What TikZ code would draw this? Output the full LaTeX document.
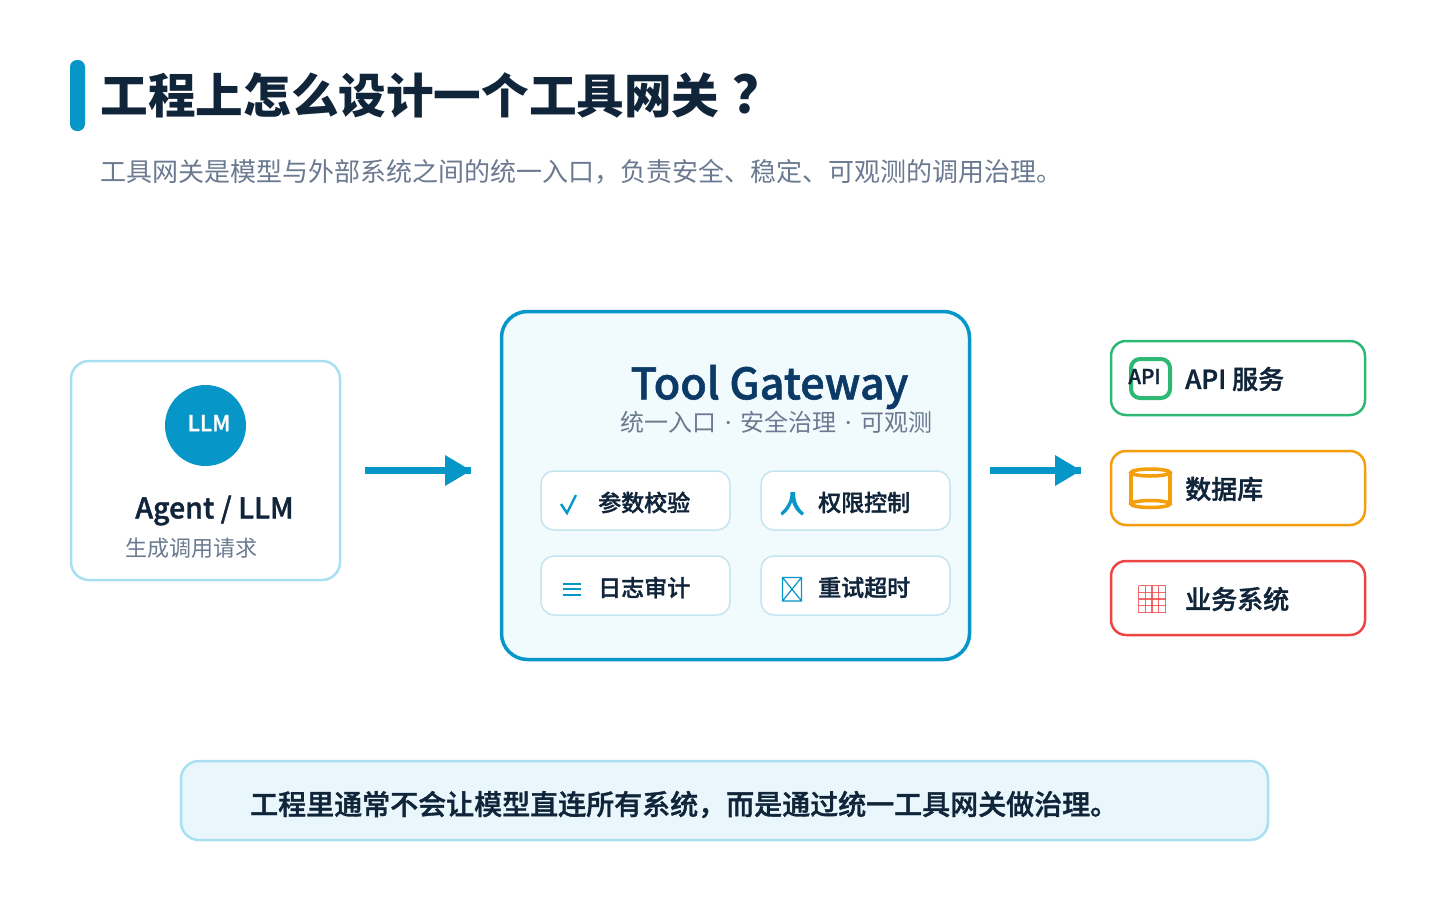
\documentclass[tikz,border=0pt]{standalone}
\usepackage{fontspec}
\setmainfont{Noto Sans CJK SC}
\newfontfamily\semif[FakeBold=1.3]{Noto Sans CJK SC Medium}
\newfontfamily\dotf{Noto Sans}
\usetikzlibrary{arrows.meta}
\definecolor{ink}{HTML}{10243A}
\definecolor{accent}{HTML}{0696C7}
\definecolor{graytxt}{HTML}{6B7A90}
\definecolor{navy}{HTML}{0B3A66}
\definecolor{lightblue}{HTML}{A8E0F2}
\definecolor{palefill}{HTML}{F1FAFD}
\definecolor{noteFill}{HTML}{E9F7FC}
\definecolor{chipline}{HTML}{C4E5F0}
\definecolor{green}{HTML}{2DB873}
\definecolor{orange}{HTML}{F59E0B}
\definecolor{red}{HTML}{EF4444}
\newcommand{\fs}[1]{\fontsize{#1}{#1}\selectfont}
\newcommand{\middot}{\hspace{8.8pt}{\dotf ·}\hspace{8.8pt}}
\tikzset{
  x=1pt,y=-1pt,
  txt/.style={inner sep=0pt,anchor=west,text=#1},
  flow/.style={draw=accent,line width=6.5pt},
  head/.style={fill=accent,draw=none},
  chip/.style={draw=chipline,line width=1.5pt,fill=white,rounded corners=13pt},
  svc/.style={line width=2.5pt,fill=white,rounded corners=15pt},
  icon/.style={draw=accent,line width=2.4pt},
}
\begin{document}
\begin{tikzpicture}
\useasboundingbox (0,0) rectangle (1448,900);
\fill[white] (0,0) rectangle (1448,900);
% header
\fill[accent,rounded corners=7pt] (70,60) rectangle (85,131);
\node[txt=ink] (title) at (100.5,95) {\fs{47.6}\bfseries 工程上怎么设计一个工具网关\kern12.5pt\smash{\fs{52}？}};
\node[txt=graytxt] (sub) at (100,172) {\fs{26}工具网关是模型与外部系统之间的统一入口，负责安全、稳定、可观测的调用治理。};
% agent
\draw[draw=lightblue,line width=2.5pt,fill=white,rounded corners=18pt] (71,361) rectangle (340,580);
\node[circle,fill=accent,minimum size=81pt,inner sep=0pt] (llm) at (205.5,425.5) {};
\node[txt=white,anchor=center] (llmt) at (209,423) {\fs{22}\semif LLM};
\node[txt=ink,anchor=center] (agent) at (214.5,510.5) {\fs{28.5}\semif Agent / LLM};
\node[txt=graytxt] (gen) at (125,548.5) {\fs{22}生成调用请求};
% gateway
\draw[draw=accent,line width=3.5pt,fill=palefill,rounded corners=26pt] (501.5,311.5) rectangle (969.5,659.5);
\node[txt=navy,anchor=center] (gw) at (769.5,387) {\fs{43.2}\semif Tool Gateway};
\node[txt=graytxt] (gwsub) at (620,422.5) {\fs{24}统一入口\middot 安全治理\middot 可观测};
% chips
\node[chip,minimum width=189pt,minimum height=59pt] (c1) at (635.5,500.5) {};
\node[chip,minimum width=189pt,minimum height=59pt] (c2) at (855.5,500.5) {};
\node[chip,minimum width=189pt,minimum height=59pt] (c3) at (635.5,585.5) {};
\node[chip,minimum width=189pt,minimum height=59pt] (c4) at (855.5,585.5) {};
\node[txt=ink] (c1t) at (598,502.5) {\fs{23}\semif 参数校验};
\node[txt=ink] (c2t) at (818,502.5) {\fs{23}\semif 权限控制};
\node[txt=ink] (c3t) at (598,587.5) {\fs{23}\semif 日志审计};
\node[txt=ink] (c4t) at (818,587.5) {\fs{23}\semif 重试超时};
% chip icons
\draw[icon] (561,504) -- (567,513) -- (576,495);
\fill[accent] (790.5,492) -- (795,492) .. controls (795,503) and (799,509) .. (804,513) -- (802,515.5) .. controls (797,512) and (794,508) .. (792,502) .. controls (790,508) and (787,512) .. (782,515.5) -- (780.5,513) .. controls (786,508) and (790.5,502) .. (790.5,492) -- cycle;
\draw[accent,line width=2pt] (563,583.5) -- (581,583.5) (563,589) -- (581,589) (563,594.5) -- (581,594.5);
\draw[accent,line width=1.2pt] (782.5,577.5) rectangle (801.5,601) (782.5,577.5) -- (801.5,601) (801.5,577.5) -- (782.5,601);
% arrows
\coordinate (a1s) at (365,470.5);
\coordinate (a1e) at (471,470.5);
\coordinate (a2s) at (990,470.5);
\coordinate (a2e) at (1081,470.5);
\draw[flow] (a1s) -- (a1e);
\fill[head] (445,455) -- (471,470.5) -- (445,486) -- cycle;
\draw[flow] (a2s) -- (a2e);
\fill[head] (1055,455) -- (1081,470.5) -- (1055,486) -- cycle;
% services
\draw[svc,draw=green] (1111,341) rectangle (1365,415);
\draw[svc,draw=orange] (1111,451) rectangle (1365,525);
\draw[svc,draw=red] (1111,561) rectangle (1365,635);
\draw[draw=green,line width=4pt,rounded corners=9pt] (1131,359) rectangle (1170,398);
\node[txt=ink,anchor=center] (apii) at (1144.5,376.5) {\fs{20.5}\semif API};
\node[txt=ink] (s1) at (1185,379) {\fs{26}\semif API 服务};
\draw[orange,line width=3.5pt] (1131,472) -- (1131,504) (1170,472) -- (1170,504);
\draw[orange,line width=3.5pt] (1150.5,472.5) ellipse [x radius=19.5, y radius=3.5];
\draw[orange,line width=3.5pt] (1150.5,504) ellipse [x radius=19.5, y radius=3.5];
\node[txt=ink] (s2) at (1185,489) {\fs{26}\semif 数据库};
\foreach \i in {0,1,2,3,4} {
  \draw[draw=red,line width=1.3pt,opacity=.8] ({1138.5+6.75*\i},585.5) -- ({1138.5+6.75*\i},612.5);
  \draw[draw=red,line width=1.3pt,opacity=.8] (1138.5,{585.5+6.75*\i}) -- (1165.5,{585.5+6.75*\i});
}
\node[txt=ink] (s3) at (1185,599) {\fs{26}\semif 业务系统};
% note
\draw[draw=lightblue,line width=2.5pt,fill=noteFill,rounded corners=18pt] (181,761) rectangle (1268,840);
\node[txt=ink] (note) at (250,804.5) {\fs{28}\semif 工程里通常不会让模型直连所有系统，而是通过统一工具网关做治理。};
\end{tikzpicture}
\end{document}
